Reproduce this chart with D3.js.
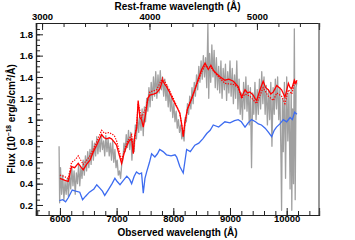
<!DOCTYPE html>
<html><head><meta charset="utf-8">
<script src="https://cdn.jsdelivr.net/npm/d3@7"></script>
<style>html,body{margin:0;padding:0;background:#fff;}svg{display:block;}</style>
</head><body>
<script>
// ---- data ----
const grayWave = [5985,5995,6010,6030,6050,6070,6090,6110,6130,6150,6170,6190,6210,6230,6250,6270,6290,6310,6330,6350,6370,6390,6410,6430,6450,6470,6490,6510,6530,6550,6570,6590,6610,6630,6650,6670,6690,6710,6730,6750,6770,6790,6810,6830,6850,6870,6890,6910,6930,6950,6970,6990,7010,7030,7050,7070,7090,7110,7130,7150,7170,7190,7210,7230,7250,7270,7290,7310,7330,7350,7370,7390,7410,7430,7450,7470,7490,7510,7530,7550,7570,7590,7610,7630,7650,7670,7690,7710,7730,7750,7770,7790,7810,7830,7850,7870,7890,7910,7930,7950,7970,7990,8010,8030,8050,8070,8090,8110,8130,8150,8170,8190,8210,8230,8250,8270,8290,8310,8330,8350,8370,8390,8410,8430,8450,8470,8490,8510,8530,8550,8570,8590,8610,8625,8640,8660,8680,8700,8720,8740,8760,8780,8800,8820,8840,8860,8880,8900,8920,8940,8960,8980,9000,9020,9040,9060,9080,9100,9120,9140,9160,9180,9200,9220,9240,9260,9280,9300,9320,9340,9360,9380,9400,9420,9440,9460,9480,9500,9520,9540,9560,9580,9600,9620,9640,9660,9680,9700,9720,9740,9760,9780,9800,9820,9840,9860,9880,9900,9910,9925,9940,9960,9980,10000,10020,10040,10060,10080,10090,10105,10120,10135,10150,10165,10180];
const grayFlux = [0.75,0.22,0.55,0.30,0.48,0.25,0.42,0.30,0.45,0.28,0.50,0.35,0.55,0.38,0.52,0.30,0.50,0.40,0.58,0.38,0.55,0.45,0.62,0.48,0.66,0.52,0.70,0.55,0.72,0.58,0.80,0.62,0.78,0.66,0.84,0.68,0.82,0.70,0.86,0.72,0.80,0.66,0.85,0.70,0.82,0.66,0.78,0.62,0.80,0.60,0.72,0.55,0.62,0.48,0.52,0.45,0.58,0.62,0.78,0.70,0.86,0.74,0.90,0.72,0.88,0.62,0.82,0.70,0.95,0.82,1.02,0.88,1.05,0.90,1.10,0.85,1.12,0.98,1.20,1.08,1.30,1.12,1.35,1.18,1.40,1.22,1.45,1.20,1.42,1.25,1.46,1.28,1.40,1.22,1.38,1.18,1.32,1.12,1.28,1.08,1.22,1.02,1.15,0.98,1.08,0.92,1.00,0.88,0.95,0.82,0.88,0.80,1.02,0.98,1.15,1.05,1.22,1.10,1.30,1.15,1.35,1.22,1.42,1.28,1.50,1.35,1.55,1.38,1.60,1.40,1.58,1.30,1.90,1.20,1.62,1.35,1.70,1.40,1.65,1.30,1.58,1.28,1.50,1.25,1.55,1.20,1.48,1.28,1.52,1.18,1.45,1.25,1.55,1.22,1.48,1.15,1.42,1.20,1.55,1.10,1.38,1.05,1.25,1.00,1.35,1.10,1.40,1.08,1.32,0.95,1.30,0.55,1.25,1.05,1.35,1.00,1.28,1.05,1.38,1.10,1.45,1.15,1.40,1.05,1.32,0.95,1.28,1.00,1.35,0.75,1.30,1.05,1.38,1.10,1.40,1.00,1.30,0.60,0.15,1.20,0.70,1.35,0.45,1.40,0.80,1.25,0.35,1.30,0.15,1.10,0.40,1.85,0.25,1.30,1.35];

const redWave = [6000,6090,6147,6205,6260,6323,6380,6411,6470,6530,6590,6647,6700,6735,6780,6823,6870,6910,6960,7000,7050,7088,7130,7176,7220,7265,7294,7320,7353,7380,7410,7440,7470,7510,7550,7587,7650,7705,7764,7810,7850,7880,7940,8000,8060,8115,8150,8175,8205,8250,8310,8380,8440,8500,8560,8617,8663,8710,8765,8830,8910,8980,9060,9110,9145,9205,9265,9310,9350,9410,9440,9470,9530,9585,9630,9675,9720,9765,9825,9870,9910,9970,10030,10060,10090,10135,10160,10180];
const redFlux = [0.45,0.43,0.42,0.56,0.55,0.59,0.55,0.53,0.58,0.62,0.70,0.76,0.82,0.86,0.83,0.82,0.83,0.82,0.79,0.76,0.66,0.59,0.68,0.75,0.80,0.82,0.68,0.85,0.92,1.18,1.02,1.00,0.93,1.05,1.20,1.23,1.24,1.25,1.29,1.37,1.33,1.31,1.25,1.18,1.12,1.06,0.95,0.84,0.98,1.10,1.18,1.28,1.38,1.47,1.53,1.47,1.51,1.46,1.43,1.40,1.37,1.38,1.36,1.33,1.31,1.21,1.28,1.25,1.26,1.23,1.20,1.18,1.28,1.36,1.30,1.28,1.24,1.26,1.32,1.30,1.28,1.21,1.34,1.30,1.29,1.37,1.34,1.37];

const dotWave = [6000,6060,6147,6205,6260,6323,6411,6530,6647,6735,6790,6870,6960,7000,7088,7176,7265,7294,7353,7380,7440,7510,7587,7705,7810,7880,8000,8115,8175,8250,8380,8500,8560,8663,8765,8910,9060,9145,9205,9265,9350,9470,9585,9675,9765,9825,9910,9970,10030,10090,10135,10180];
const dotFlux = [0.48,0.47,0.45,0.60,0.62,0.66,0.58,0.66,0.79,0.90,0.87,0.88,0.85,0.80,0.62,0.78,0.86,0.70,0.95,1.15,1.02,1.10,1.26,1.28,1.39,1.33,1.20,1.06,0.86,1.10,1.28,1.45,1.50,1.49,1.42,1.34,1.33,1.30,1.20,1.24,1.22,1.15,1.30,1.22,1.18,1.25,1.22,1.15,1.28,1.24,1.34,1.35];

const blueWave = [5990,6050,6100,6150,6217,6280,6350,6400,6450,6520,6600,6650,6700,6750,6790,6850,6920,6970,7010,7060,7120,7180,7230,7265,7310,7350,7400,7440,7470,7500,7530,7580,7617,7675,7720,7760,7820,7880,7960,8030,8060,8115,8175,8235,8300,8380,8450,8520,8590,8650,8705,8800,8910,9000,9080,9145,9200,9265,9320,9380,9450,9500,9555,9620,9680,9735,9780,9820,9880,9940,10000,10060,10100,10140,10180];
const blueFlux = [0.24,0.25,0.23,0.27,0.34,0.33,0.32,0.25,0.28,0.32,0.35,0.39,0.36,0.33,0.29,0.34,0.40,0.45,0.42,0.39,0.43,0.47,0.44,0.40,0.47,0.51,0.49,0.50,0.31,0.45,0.51,0.60,0.68,0.65,0.68,0.72,0.70,0.67,0.66,0.67,0.65,0.56,0.50,0.72,0.70,0.76,0.78,0.82,0.87,0.90,0.95,0.93,0.98,0.97,0.99,1.00,0.98,0.93,0.97,1.00,0.98,0.96,0.95,0.92,0.88,0.84,0.90,0.93,0.96,1.00,0.98,1.02,1.00,1.07,1.05];

const xTicks = [6000,7000,8000,9000,10000];
const topTicks = [3000,4000,5000];
const yTicks = [0.2,0.4,0.6,0.8,1,1.2,1.4,1.6,1.8];
const redshift = 0.895;

// ---- layout ----
const W = 355, H = 240;
const m = {l:36, r:36, t:23, b:25};
const svg = d3.select("body").append("svg").attr("width", W).attr("height", H);
const x = d3.scaleLinear().domain([5578, 10570]).range([m.l, W - m.r]);
const xr = d3.scaleLinear().domain([5578/(1+redshift), 10570/(1+redshift)]).range([m.l, W - m.r]);
const y = d3.scaleLinear().domain([0.106, 1.906]).range([H - m.b, m.t]);

const font = "'Liberation Sans', Arial, sans-serif";
svg.append("clipPath").attr("id","c").append("rect")
  .attr("x", m.l).attr("y", m.t).attr("width", W-m.l-m.r).attr("height", H-m.t-m.b);

const line = (xs, ys) => d3.line().x((d,i)=>x(xs[i])).y((d,i)=>y(ys[i]))(xs);
const plot = svg.append("g").attr("clip-path","url(#c)");
plot.append("path").attr("d", line(grayWave, grayFlux)).attr("fill","none")
  .attr("stroke","#a0a0a0").attr("stroke-width",1.3).attr("stroke-linejoin","round");
plot.append("path").attr("d", line(blueWave, blueFlux)).attr("fill","none")
  .attr("stroke","#3d6cf0").attr("stroke-width",1.3);
plot.append("path").attr("d", line(dotWave, dotFlux)).attr("fill","none")
  .attr("stroke","#ff0000").attr("stroke-width",1.2).attr("stroke-dasharray","1.3,1.3");
plot.append("path").attr("d", line(redWave, redFlux)).attr("fill","none")
  .attr("stroke","#ff0000").attr("stroke-width",1.3);

// ---- axes ----
const axCol = "#222";
const axB = svg.append("g").attr("transform",`translate(0,${H-m.b})`);
axB.call(d3.axisBottom(x).tickValues(d3.range(5600,10600,200)).tickSize(-4).tickFormat(""));
axB.append("g").call(d3.axisBottom(x).tickValues(xTicks).tickSize(-7).tickFormat(d3.format("d")));
const axT = svg.append("g").attr("transform",`translate(0,${m.t})`);
axT.call(d3.axisTop(xr).tickValues(d3.range(3000,5600,200)).tickSize(-4).tickFormat(""));
axT.append("g").call(d3.axisTop(xr).tickValues(topTicks).tickSize(-7).tickFormat(d3.format("d")));
const axL = svg.append("g").attr("transform",`translate(${m.l},0)`);
axL.call(d3.axisLeft(y).tickValues(d3.range(0.15,1.9,0.05)).tickSize(-4).tickFormat(""));
axL.append("g").call(d3.axisLeft(y).tickValues(yTicks).tickSize(-7).tickFormat(d3.format("~g")));
svg.append("line").attr("x1",W-m.r).attr("x2",W-m.r).attr("y1",m.t).attr("y2",H-m.b)
  .attr("stroke","#555").attr("stroke-width",1.2);

svg.selectAll(".domain").attr("stroke",axCol).attr("stroke-width",1.2);
svg.selectAll(".tick line").attr("stroke",axCol);
svg.selectAll(".tick text").attr("font-family",font).attr("font-size",9.5)
  .attr("font-weight","bold").attr("fill","#000");
axB.selectAll(".tick text").attr("dy","0.4em");
axL.selectAll(".tick text").attr("x",-3);
axT.selectAll(".tick text").attr("dy","-0.05em");

svg.append("text").attr("x",(m.l+W-m.r)/2).attr("y",236).attr("text-anchor","middle")
  .attr("font-family",font).attr("font-size",10).attr("font-weight","bold").text("Observed wavelength (Å)");
svg.append("text").attr("x",(m.l+W-m.r)/2).attr("y",10).attr("text-anchor","middle")
  .attr("font-family",font).attr("font-size",10).attr("font-weight","bold").text("Rest-frame wavelength (Å)");
const yl = svg.append("text").attr("transform",`translate(15,${(m.t+H-m.b)/2}) rotate(-90)`)
  .attr("text-anchor","middle").attr("font-family",font).attr("font-size",10).attr("font-weight","bold");
yl.append("tspan").text("Flux (10");
yl.append("tspan").attr("font-size",6.5).attr("dy","-4").text("−18");
yl.append("tspan").attr("dy","4").text(" erg/s/cm");
yl.append("tspan").attr("font-size",6.5).attr("dy","-4").text("2");
yl.append("tspan").attr("dy","4").text("/Å)");
</script>
</body></html>
